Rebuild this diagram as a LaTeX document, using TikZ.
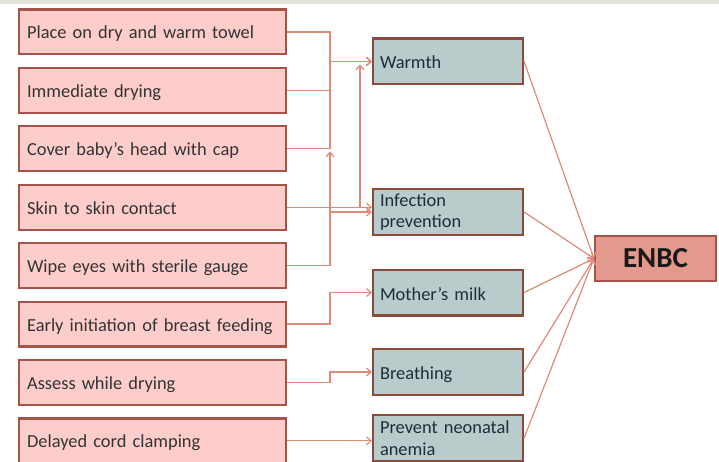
\documentclass[tikz,border=0pt]{standalone}
\usepackage{fontspec}
\setmainfont{Carlito}
\usetikzlibrary{positioning,calc,arrows.meta}
\definecolor{stripGray}{HTML}{E6E4DA}
\definecolor{pinkFill}{HTML}{FDCDCB}
\definecolor{pinkEdge}{HTML}{A5544A}
\definecolor{tealFill}{HTML}{B8CCCC}
\definecolor{tealEdge}{HTML}{8B4A3C}
\definecolor{enbcFill}{HTML}{E3998B}
\definecolor{linkRed}{HTML}{DE8A78}
\definecolor{textGray}{HTML}{333333}
\definecolor{textSlate}{HTML}{1E2C38}

\begin{document}
\begin{tikzpicture}[x=1pt, y=-1pt,
        every node/.style={font=\fontsize{18.4}{21.5}\selectfont},
        stepbox/.style={draw=pinkEdge, fill=pinkFill, line width=2.2pt, text=textGray,
            minimum height=44.8pt, text width=251pt, inner xsep=8pt, align=left,
            text height=15.5pt, text depth=1.5pt},
        goalbox/.style={draw=tealEdge, fill=tealFill, line width=2.2pt, text=textSlate,
            minimum height=45.8pt, text width=136pt, inner xsep=7pt, inner ysep=1pt, align=left},
        oneline/.style={text height=15pt, text depth=0pt},
        link/.style={draw=linkRed, line width=1.2pt, -{Straight Barb[length=4.5pt,width=8pt]}}]
    \useasboundingbox (0,0) rectangle (719,462);
    \fill[stripGray] (0,0) rectangle (719,4);

    % care steps
    \node[stepbox, anchor=north west] (towel) at (18,8.5) {Place on dry and warm towel};
    \node[stepbox, below=11.4pt of towel] (drying) {Immediate drying};
    \node[stepbox, below=11.4pt of drying] (cap) {Cover baby’s head with cap};
    \node[stepbox, below=11.4pt of cap] (skin) {Skin to skin contact};
    \node[stepbox, below=11.4pt of skin] (eyes) {Wipe eyes with sterile gauge};
    \node[stepbox, below=11.4pt of eyes] (feed) {Early initiation of breast feeding};
    \node[stepbox, below=11.4pt of feed] (assess) {Assess while drying};
    \node[stepbox, below=11.4pt of assess] (cord) {Delayed cord clamping};

    % goals
    \node[goalbox, oneline] (warmth) at (448,61.5) {Warmth};
    \node[goalbox] (infect) at (448,212) {Infection\\prevention};
    \node[goalbox, oneline] (milk) at (448,292.5) {Mother’s milk};
    \node[goalbox, oneline] (breath) at (448,372) {Breathing};
    \node[goalbox] (anemia) at (448,438) {Prevent neonatal\\anemia};

    \node[draw=pinkEdge, fill=enbcFill, line width=2.2pt, minimum width=121pt, minimum height=45pt,
        font=\fontsize{29}{32}\selectfont\bfseries, text=black!90] (enbc) at (655.5,258.5) {ENBC};

    \coordinate (bus) at (330,0);
    \coordinate (warmUp) at (360,64.5);
    \coordinate (capUp) at (330,151.5);

    % step to goal links
    \draw[link] (towel.east) -| (bus |- warmth.west) -- (warmth.west);
    \draw[link] (drying.east) -| (bus |- warmth.west) -- (warmth.west);
    \draw[link] (cap.east) -| (bus |- warmth.west) -- (warmth.west);
    \draw[link] (skin.east) -| (warmUp);
    \draw[link] (skin.east) -- (skin.east -| infect.west);
    \draw[link] (eyes.east) -| (capUp);
    \draw[link] (eyes.east) -| (bus |- infect.west) -- (infect.west);
    \draw[link] (feed.east) -| (bus |- milk.west) -- (milk.west);
    \draw[link] (assess.east) -| (bus |- breath.west) -- (breath.west);
    \draw[link] (cord.east) -- (cord.east -| anemia.west);

    % goal to ENBC links
    \foreach \goal in {warmth, infect, milk, breath, anemia}
        \draw[link] (\goal.east) -- (enbc.west);
\end{tikzpicture}
\end{document}
